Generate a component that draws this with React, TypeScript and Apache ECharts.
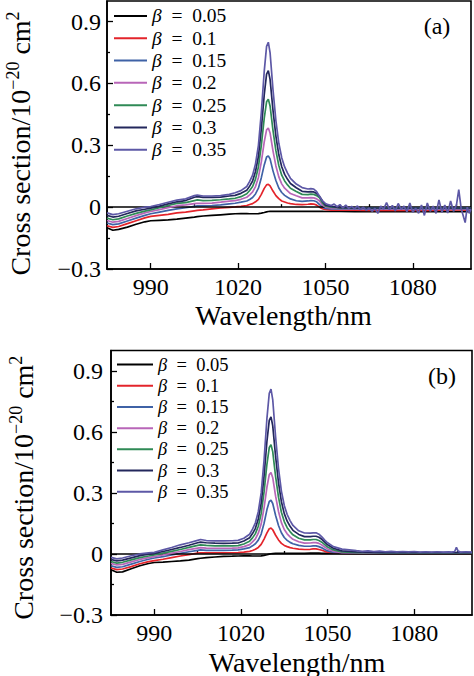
import React, { useEffect, useRef } from "react";
import * as echarts from "echarts";

const F = '"Liberation Serif", "Times New Roman", serif';

// Wavelength grid (nm)
const wavelength = [
  975, 977, 979, 982, 985, 988, 990, 993, 996, 999,
  1002, 1005, 1006, 1008, 1011, 1014, 1017, 1019, 1021, 1023,
  1024, 1025, 1026, 1027, 1028, 1029, 1029.8, 1030.4, 1031, 1032,
  1033, 1034, 1035, 1036, 1037, 1038, 1040, 1042, 1044, 1045,
  1046, 1047, 1048, 1049, 1050, 1052, 1055, 1060, 1065, 1070,
  1075, 1080, 1085, 1090, 1095, 1100,
];

const seriesNames = ["β = 0.05", "β = 0.1", "β = 0.15", "β = 0.2", "β = 0.25", "β = 0.3", "β = 0.35"];
const seriesColors = ["#000000", "#e3242b", "#3f62a6", "#b866b8", "#2f8a56", "#23275c", "#5d58a6"];

const xTicks = [990, 1020, 1050, 1080];
const xMinorTicks = [1005, 1035, 1065, 1095];
const yTicks = [-0.3, 0, 0.3, 0.6, 0.9];
const yMinorTicks = [-0.15, 0.15, 0.45, 0.75];

// ---------- Panel (a) ----------
const a005 = [
  -0.1, -0.112, -0.108, -0.097, -0.083, -0.071, -0.066, -0.064, -0.062, -0.058,
  -0.053, -0.048, -0.046, -0.043, -0.04, -0.037, -0.034, -0.032, -0.031, -0.031,
  -0.032, -0.032, -0.032, -0.031, -0.029, -0.026, -0.023, -0.021, -0.02, -0.02,
  -0.02, -0.02, -0.02, -0.02, -0.02, -0.02, -0.02, -0.02, -0.02, -0.02,
  -0.02, -0.02, -0.02, -0.02, -0.021, -0.021, -0.021, -0.022, -0.022, -0.022,
  -0.022, -0.022, -0.022, -0.022, -0.021, -0.022,
];
const a01 = [
  -0.09, -0.098, -0.094, -0.08, -0.066, -0.052, -0.045, -0.04, -0.035, -0.028,
  -0.024, -0.018, -0.016, -0.013, -0.008, -0.004, -0.001, 0.001, 0.004, 0.008,
  0.013, 0.017, 0.026, 0.038, 0.062, 0.091, 0.108, 0.111, 0.103, 0.078,
  0.056, 0.041, 0.03, 0.025, 0.02, 0.017, 0.013, 0.012, 0.014, 0.016,
  0.015, 0.01, 0.0, -0.008, -0.012, -0.014, -0.015, -0.015, -0.016, -0.015,
  -0.016, -0.015, -0.016, -0.015, -0.012, -0.016,
];
const a015 = [
  -0.077, -0.085, -0.081, -0.067, -0.053, -0.04, -0.032, -0.024, -0.016, -0.008,
  -0.003, 0.004, 0.006, 0.006, 0.008, 0.011, 0.016, 0.019, 0.024, 0.03,
  0.037, 0.047, 0.064, 0.092, 0.143, 0.205, 0.243, 0.249, 0.234, 0.176,
  0.129, 0.093, 0.071, 0.057, 0.048, 0.04, 0.031, 0.028, 0.03, 0.032,
  0.031, 0.026, 0.012, 0.0, -0.006, -0.008, -0.008, -0.009, -0.008, -0.009,
  -0.008, -0.009, -0.008, -0.009, -0.008, -0.009,
];
const a02 = [
  -0.065, -0.073, -0.069, -0.055, -0.041, -0.028, -0.021, -0.012, -0.002, 0.007,
  0.011, 0.017, 0.019, 0.018, 0.02, 0.024, 0.029, 0.032, 0.038, 0.048,
  0.06, 0.074, 0.1, 0.144, 0.22, 0.317, 0.375, 0.384, 0.36, 0.273,
  0.2, 0.147, 0.113, 0.092, 0.079, 0.066, 0.055, 0.045, 0.045, 0.046,
  0.045, 0.04, 0.03, 0.01, 0.0, -0.004, -0.006, -0.006, -0.007, -0.006,
  -0.007, -0.006, -0.007, -0.006, -0.007, -0.006,
];
const a025 = [
  -0.053, -0.061, -0.057, -0.043, -0.03, -0.019, -0.013, -0.003, 0.008, 0.018,
  0.022, 0.032, 0.035, 0.032, 0.033, 0.036, 0.04, 0.043, 0.051, 0.065,
  0.081, 0.1, 0.136, 0.195, 0.3, 0.432, 0.511, 0.524, 0.491, 0.372,
  0.274, 0.202, 0.155, 0.127, 0.108, 0.092, 0.076, 0.062, 0.061, 0.063,
  0.062, 0.056, 0.045, 0.02, 0.005, 0.0, -0.004, -0.005, -0.005, -0.005,
  -0.005, -0.005, -0.005, -0.005, -0.005, -0.005,
];
const a03 = [
  -0.04, -0.048, -0.044, -0.031, -0.018, -0.01, -0.005, 0.005, 0.016, 0.026,
  0.032, 0.048, 0.051, 0.047, 0.047, 0.049, 0.054, 0.057, 0.067, 0.082,
  0.102, 0.127, 0.173, 0.247, 0.38, 0.546, 0.645, 0.662, 0.62, 0.47,
  0.345, 0.254, 0.196, 0.159, 0.135, 0.115, 0.094, 0.077, 0.074, 0.075,
  0.074, 0.066, 0.052, 0.03, 0.01, 0.004, -0.002, -0.004, -0.004, -0.004,
  -0.004, -0.004, -0.004, -0.004, -0.004, -0.004,
];
const a035 = [
  -0.028, -0.036, -0.032, -0.02, -0.008, 0.0, 0.003, 0.013, 0.024, 0.034,
  0.04, 0.056, 0.059, 0.054, 0.054, 0.056, 0.062, 0.07, 0.08, 0.1,
  0.125, 0.155, 0.21, 0.3, 0.46, 0.66, 0.78, 0.8, 0.75, 0.57,
  0.42, 0.31, 0.24, 0.195, 0.165, 0.14, 0.112, 0.095, 0.088, 0.09,
  0.088, 0.075, 0.052, 0.03, null, null, null, null, null, null,
  null, null, null, null, null, null,
];
// noisy tail of β = 0.35 in panel (a)
const aNoiseX = [
  1050, 1051, 1052, 1053, 1054, 1055, 1056, 1057, 1058, 1059,
  1060, 1061, 1062, 1063, 1064, 1065, 1066, 1067, 1068, 1069,
  1070, 1071, 1072, 1073, 1074, 1075, 1076, 1077, 1078, 1079,
  1080, 1081, 1082, 1083, 1084, 1085, 1086, 1087, 1088, 1089,
  1090, 1091, 1092, 1093, 1094, 1095, 1095.8, 1096.6, 1097.3, 1098,
  1098.7, 1099.4, 1100,
];
const a035Noise = [
  0.018, 0.012, 0.008, 0.015, 0.002, 0.012, -0.004, 0.01, -0.006, 0.004,
  -0.008, 0.006, -0.012, 0.0, -0.015, -0.005, -0.02, -0.006, -0.03, 0.005,
  -0.01, 0.022, -0.012, 0.008, -0.018, 0.018, -0.01, 0.005, -0.022, 0.02,
  -0.025, -0.005, -0.03, 0.01, -0.04, 0.02, -0.02, 0.005, -0.03, 0.035,
  -0.025, 0.01, -0.028, 0.03, -0.02, 0.01, 0.085, -0.005, -0.04, -0.075,
  0.0, -0.03, -0.01,
];

// ---------- Panel (b) ----------
const b005 = [
  -0.078, -0.09, -0.088, -0.073, -0.058, -0.047, -0.042, -0.04, -0.037, -0.034,
  -0.03, -0.023, -0.021, -0.018, -0.015, -0.012, -0.011, -0.01, -0.009, -0.009,
  -0.01, -0.01, -0.01, -0.009, -0.007, -0.004, -0.001, 0.001, 0.002, 0.003,
  0.003, 0.003, 0.003, 0.003, 0.003, 0.003, 0.003, 0.003, 0.004, 0.004,
  0.004, 0.004, 0.003, 0.003, 0.003, 0.003, 0.003, 0.003, 0.003, 0.003,
  0.003, 0.003, 0.003, 0.003, 0.003, 0.003,
];
const b01 = [
  -0.069, -0.077, -0.074, -0.062, -0.048, -0.038, -0.033, -0.026, -0.018, -0.01,
  -0.003, 0.004, 0.006, 0.005, 0.005, 0.005, 0.006, 0.007, 0.009, 0.013,
  0.017, 0.023, 0.032, 0.047, 0.073, 0.104, 0.124, 0.127, 0.119, 0.092,
  0.069, 0.052, 0.042, 0.036, 0.031, 0.028, 0.024, 0.022, 0.023, 0.025,
  0.025, 0.022, 0.018, 0.013, 0.009, 0.005, 0.003, 0.002, 0.002, 0.002,
  0.002, 0.002, 0.002, 0.002, 0.002, 0.002,
];
const b015 = [
  -0.058, -0.066, -0.063, -0.05, -0.037, -0.026, -0.02, -0.013, -0.005, 0.003,
  0.011, 0.018, 0.02, 0.018, 0.018, 0.018, 0.019, 0.02, 0.025, 0.031,
  0.04, 0.05, 0.068, 0.098, 0.151, 0.218, 0.258, 0.264, 0.248, 0.189,
  0.14, 0.104, 0.081, 0.067, 0.057, 0.05, 0.042, 0.038, 0.038, 0.04,
  0.04, 0.036, 0.03, 0.022, 0.015, 0.008, 0.004, 0.003, 0.003, 0.003,
  0.003, 0.003, 0.003, 0.003, 0.003, 0.003,
];
const b02 = [
  -0.046, -0.054, -0.051, -0.039, -0.027, -0.018, -0.013, -0.005, 0.004, 0.012,
  0.021, 0.029, 0.031, 0.029, 0.028, 0.028, 0.029, 0.03, 0.036, 0.046,
  0.059, 0.074, 0.102, 0.147, 0.227, 0.329, 0.39, 0.4, 0.375, 0.284,
  0.209, 0.154, 0.12, 0.099, 0.084, 0.072, 0.06, 0.053, 0.054, 0.056,
  0.056, 0.052, 0.044, 0.034, 0.024, 0.013, 0.007, 0.005, 0.004, 0.004,
  0.004, 0.004, 0.004, 0.004, 0.004, 0.004,
];
const b025 = [
  -0.037, -0.045, -0.041, -0.029, -0.018, -0.01, -0.005, 0.004, 0.013, 0.022,
  0.032, 0.042, 0.045, 0.042, 0.04, 0.04, 0.04, 0.041, 0.049, 0.063,
  0.079, 0.1, 0.136, 0.198, 0.305, 0.442, 0.523, 0.537, 0.503, 0.38,
  0.279, 0.205, 0.159, 0.129, 0.11, 0.094, 0.077, 0.069, 0.069, 0.071,
  0.071, 0.066, 0.058, 0.046, 0.034, 0.02, 0.01, 0.007, 0.006, 0.005,
  0.005, 0.005, 0.005, 0.005, 0.005, 0.005,
];
const b03 = [
  -0.027, -0.034, -0.03, -0.019, -0.008, -0.001, 0.003, 0.012, 0.022, 0.032,
  0.043, 0.055, 0.058, 0.055, 0.053, 0.052, 0.053, 0.054, 0.064, 0.08,
  0.1, 0.126, 0.172, 0.249, 0.384, 0.555, 0.657, 0.674, 0.631, 0.478,
  0.35, 0.257, 0.198, 0.161, 0.136, 0.116, 0.096, 0.085, 0.085, 0.087,
  0.087, 0.082, 0.072, 0.058, 0.045, 0.028, 0.015, 0.01, 0.008, 0.007,
  0.007, 0.007, 0.007, 0.007, 0.007, 0.007,
];
const b035 = [
  -0.017, -0.024, -0.02, -0.009, 0.0, 0.005, 0.008, 0.02, 0.032, 0.045,
  0.055, 0.067, 0.071, 0.066, 0.064, 0.064, 0.065, 0.067, 0.077, 0.097,
  0.122, 0.153, 0.208, 0.3, 0.462, 0.668, 0.79, 0.81, 0.759, 0.575,
  0.421, 0.309, 0.238, 0.194, 0.164, 0.14, 0.114, 0.103, 0.102, 0.104,
  0.104, 0.097, 0.084, 0.068, 0.055, 0.036, 0.024, null, null, null,
  null, null, null, null, null, null,
];
const bNoiseX = [
  1060, 1062, 1064, 1066, 1068, 1070, 1072, 1074, 1076, 1078,
  1080, 1082, 1084, 1086, 1088, 1090, 1092, 1093, 1094, 1094.6,
  1095.2, 1096, 1098, 1100,
];
const b035Noise = [
  0.016, 0.013, 0.015, 0.012, 0.014, 0.011, 0.013, 0.01, 0.012, 0.01,
  0.012, 0.009, 0.011, 0.009, 0.011, 0.009, 0.01, 0.009, 0.012, 0.032,
  0.014, 0.009, 0.011, 0.009,
];

const panelA = [a005, a01, a015, a02, a025, a03, a035];
const panelB = [b005, b01, b015, b02, b025, b03, b035];

function pairs(xs: number[], ys: (number | null)[]) {
  const out: [number, number][] = [];
  xs.forEach((x, i) => {
    const y = ys[i];
    if (y !== null && y !== undefined) out.push([x, y]);
  });
  return out;
}

const fmtY = (v: number) => (Math.abs(v) < 1e-9 ? "0" : (v < 0 ? "\u2212" : "") + Math.abs(v).toFixed(1));
const fmtX = (v: number) => String(Math.round(v));

function makeAxes(gridIndex: number, yLabelMargin: number, yNameGap: number, yNamePad: number[], xNamePad: number[], xNameGap: number) {
  const tickLine = { color: "#000", width: 1.3 };
  const xMain = {
    type: "value", gridIndex, min: 975, max: 1100, position: "bottom",
    axisLine: { show: true, onZero: false, lineStyle: { color: "#000", width: 1.6 } },
    axisTick: { show: true, inside: true, length: 6, customValues: xTicks, lineStyle: tickLine },
    axisLabel: { show: true, customValues: xTicks, margin: 6, color: "#000", fontFamily: F, fontSize: 24, formatter: fmtX },
    splitLine: { show: false },
    name: "Wavelength/nm", nameLocation: "middle", nameGap: xNameGap, nameMoveOverlap: false,
    nameTextStyle: { fontFamily: F, fontSize: 28, color: "#000", padding: xNamePad },
  };
  const xMinor = {
    type: "value", gridIndex, min: 975, max: 1100, position: "bottom",
    axisLine: { show: false },
    axisTick: { show: true, inside: true, length: 3, customValues: xMinorTicks, lineStyle: tickLine },
    axisLabel: { show: false }, splitLine: { show: false },
  };
  const yMain = {
    type: "value", gridIndex, min: -0.3, max: 1.0, position: "left",
    axisLine: { show: true, onZero: false, lineStyle: { color: "#000", width: 1.6 } },
    axisTick: { show: true, inside: true, length: 6, customValues: yTicks, lineStyle: tickLine },
    axisLabel: { show: true, customValues: yTicks, margin: yLabelMargin, color: "#000", fontFamily: F, fontSize: 24, formatter: fmtY },
    splitLine: { show: false },
    name: "{n|Cross section/10}{s|\u221220}{n| cm}{s|2}",
    nameLocation: "middle", nameGap: yNameGap, nameMoveOverlap: false,
    nameTextStyle: {
      color: "#000", fontFamily: F, fontSize: 28, padding: yNamePad,
      rich: {
        n: { fontFamily: F, fontSize: 28, lineHeight: 32, color: "#000" },
        s: { fontFamily: F, fontSize: 18, lineHeight: 18, verticalAlign: "top", color: "#000" },
      },
    },
  };
  const yMinor = {
    type: "value", gridIndex, min: -0.3, max: 1.0, position: "left",
    axisLine: { show: false },
    axisTick: { show: true, inside: true, length: 3, customValues: yMinorTicks, lineStyle: tickLine },
    axisLabel: { show: false }, splitLine: { show: false },
  };
  return { x: [xMain, xMinor], y: [yMain, yMinor] };
}

function makeSeries(panel: (number | null)[][], axisIndex: number, noiseX: number[], noise: number[]) {
  return panel.map((vals, k) => {
    let data = pairs(wavelength, vals);
    if (k === panel.length - 1) data = data.concat(pairs(noiseX, noise));
    const s: any = {
      type: "line", name: seriesNames[k], xAxisIndex: axisIndex, yAxisIndex: axisIndex,
      data, symbol: "none", showSymbol: false, smooth: false,
      lineStyle: { color: seriesColors[k], width: 1.7 }, itemStyle: { color: seriesColors[k] },
      emphasis: { disabled: true }, silent: true, z: 2 + k,
    };
    if (k === 0) {
      s.markLine = {
        silent: true, symbol: ["none", "none"], label: { show: false },
        lineStyle: { color: "#000", width: 1.5, type: "solid" },
        data: [{ yAxis: 0 }],
      };
    }
    return s;
  });
}

function makeLegend(left: number, top: number, itemWidth: number, rowStep: number, fontSize: number) {
  return {
    orient: "vertical", left, top, padding: 0, itemWidth, itemHeight: 2,
    itemGap: rowStep - fontSize,
    icon: "rect",
    data: seriesNames, selectedMode: false,
    formatter: (name: string) => `{g|\u03b2}{t|\u2002=\u2002${name.replace(/^β = /, "")}}`,
    textStyle: {
      color: "#000", fontFamily: F, fontSize, lineHeight: fontSize,
      rich: {
        g: { fontFamily: F, fontStyle: "italic", fontSize, lineHeight: fontSize, color: "#000" },
        t: { fontFamily: F, fontSize, lineHeight: fontSize, color: "#000" },
      },
    },
  };
}

export default function App() {
  const ref = useRef<HTMLDivElement>(null);
  useEffect(() => {
    if (!ref.current) return;
    const chart = echarts.init(ref.current, null, { renderer: "svg" });
    const axA = makeAxes(0, 6, 71, [0, 17, 0, 0], [0, 11, 0, 0], 32);
    const axB = makeAxes(1, 8, 72, [0, 10, 0, 0], [0, 0, 0, 11], 33);
    const option: any = {
      animation: false,
      backgroundColor: "#fff",
      textStyle: { fontFamily: F },
      grid: [
        { left: 107, top: 1, width: 364, height: 268, show: true, borderColor: "#000", borderWidth: 1.6, backgroundColor: "transparent", containLabel: false, outerBoundsMode: "none" },
        { left: 111, top: 350.5, width: 361, height: 264.5, show: true, borderColor: "#000", borderWidth: 1.6, backgroundColor: "transparent", containLabel: false, outerBoundsMode: "none" },
      ],
      xAxis: [...axA.x, ...axB.x],
      yAxis: [...axA.y, ...axB.y],
      legend: [makeLegend(114, 15.7 - 9.75, 33, 21.8, 19.5), makeLegend(117, 364.3 - 9.25, 36, 20.7, 18.5)],
      series: [
        ...makeSeries(panelA, 0, aNoiseX, a035Noise),
        ...makeSeries(panelB, 2, bNoiseX, b035Noise),
      ],
      graphic: [
        { type: "text", x: 437, y: 26, style: { text: "(a)", fontFamily: F, fontSize: 24, fill: "#000", align: "center", verticalAlign: "middle" } },
        { type: "text", x: 442, y: 376, style: { text: "(b)", fontFamily: F, fontSize: 24, fill: "#000", align: "center", verticalAlign: "middle" } },
      ],
    };
    chart.setOption(option);
    return () => chart.dispose();
  }, []);
  return (
    <div
      ref={ref}
      style={{ position: "fixed", left: 0, top: 0, width: 474, height: 676, background: "#fff" }}
    />
  );
}
